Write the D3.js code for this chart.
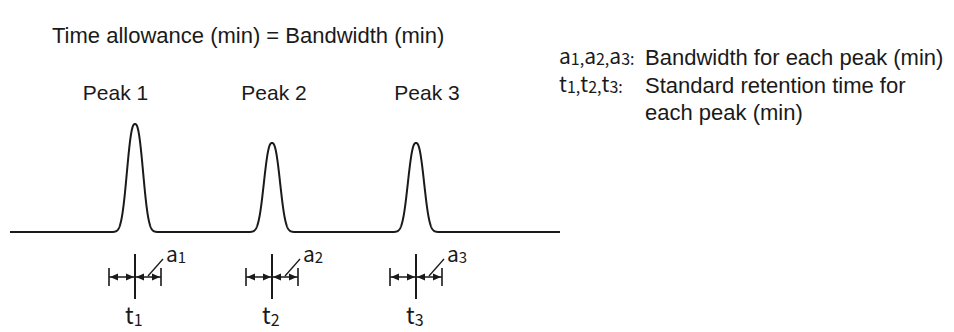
<!DOCTYPE html>
<html><head><meta charset="utf-8">
<script src="https://cdn.jsdelivr.net/npm/d3@7"></script>
<style>
html,body{margin:0;padding:0;background:#fff;}
svg{display:block;}
text{font-family:"Liberation Sans",Arial,sans-serif;fill:#1a1a1a;}
.sym{font-family:"Noto Sans CJK JP","DejaVu Sans",sans-serif;}
</style></head>
<body>
<script>
// ---- data ----
const titleText = "Time allowance (min) = Bandwidth (min)";
const peakLabels = ["Peak 1", "Peak 2", "Peak 3"];
const labelTimes = [1.055, 2.64, 4.17];      // label centre on the time axis
const retentionTimes = [1.25, 2.62, 4.06];   // t1, t2, t3
const peakHeights = [1.0, 0.824, 0.824];     // relative heights
const peakWidths = [0.10, 0.10, 0.10];       // peak shape width
const bandwidths = [0.26, 0.26, 0.26];       // a1, a2, a3 (half window each side)
const timeDomain = [0, 5.5];
const legendKeys = [["a", "1,", "a", "2,", "a", "3:"], ["t", "1,", "t", "2,", "t", "3:"]];
const legendLines = [["Bandwidth for each peak (min)"], ["Standard retention time for", "each peak (min)"]];

// ---- drawing ----
const W = 954, H = 332;
const svg = d3.select("body").append("svg").attr("width", W).attr("height", H);
const x = d3.scaleLinear().domain(timeDomain).range([10, 560]);
const y = d3.scaleLinear().domain([0, 1]).range([232, 124]);
const ink = "#1a1a1a";

const signal = t => d3.sum(retentionTimes, (rt, i) =>
  peakHeights[i] * Math.exp(-Math.pow(Math.abs(t - rt) / peakWidths[i], 2.5)));
const grid = d3.range(timeDomain[0], timeDomain[1] + 1e-9, 0.002);
svg.append("path")
  .datum(grid)
  .attr("d", d3.line().x(t => x(t)).y(t => y(signal(t))))
  .attr("fill", "none").attr("stroke", ink).attr("stroke-width", 2)
  .attr("stroke-linejoin", "round");

svg.append("text").attr("x", 52).attr("y", 43).attr("font-size", 22).text(titleText);

svg.selectAll("text.peak").data(peakLabels).join("text")
  .attr("class", "peak")
  .attr("x", (d, i) => x(labelTimes[i])).attr("y", 100)
  .attr("text-anchor", "middle").attr("font-size", 21).text(d => d);

const yArrow = 277;
const arrowHead = (s, tipX, dir) => s.append("path")
  .attr("d", `M${tipX},${yArrow} L${tipX - dir * 8},${yArrow - 3.5} L${tipX - dir * 8},${yArrow + 3.5} Z`)
  .attr("fill", ink);

const g = svg.selectAll("g.bw").data(retentionTimes).join("g").attr("class", "bw");
g.append("line")
  .attr("x1", d => x(d)).attr("x2", d => x(d)).attr("y1", 254).attr("y2", 299)
  .attr("stroke", ink).attr("stroke-width", 2);
g.each(function (d, i) {
  const s = d3.select(this);
  const xl = x(d - bandwidths[i]), xr = x(d + bandwidths[i]), xc = x(d);
  [xl, xr].forEach(xx => s.append("line").attr("x1", xx).attr("x2", xx)
    .attr("y1", 268).attr("y2", 286).attr("stroke", ink).attr("stroke-width", 1.6));
  s.append("line").attr("x1", xl).attr("x2", xr).attr("y1", yArrow).attr("y2", yArrow)
    .attr("stroke", ink).attr("stroke-width", 1.5);
  arrowHead(s, xl + 1, -1);
  arrowHead(s, xc - 1, 1);
  arrowHead(s, xc + 1, -1);
  arrowHead(s, xr - 1, 1);
  s.append("line").attr("x1", xc + 13).attr("y1", yArrow - 1).attr("x2", xc + 28).attr("y2", 259)
    .attr("stroke", ink).attr("stroke-width", 1.3);
  const ta = s.append("text").attr("class", "sym").attr("x", xc + 31).attr("y", 262).attr("font-size", 21);
  ta.append("tspan").text("a");
  ta.append("tspan").attr("font-size", 15).attr("dy", 1).text(i + 1);
  const tt = s.append("text").attr("class", "sym").attr("x", xc - 10).attr("y", 324).attr("font-size", 23);
  tt.append("tspan").text("t");
  tt.append("tspan").attr("font-size", 16).attr("dy", 2).text(i + 1);
});

// legend
const legY = [65, 93];
legendKeys.forEach((parts, r) => {
  const t = svg.append("text").attr("class", "sym").attr("x", 559).attr("y", legY[r]).attr("font-size", 21);
  parts.forEach((p, k) => {
    const sub = k % 2 === 1;
    t.append("tspan").attr("font-size", sub ? 16 : 21).attr("dy", sub ? 1 : -1).text(p);
  });
  legendLines[r].forEach((line, j) => svg.append("text")
    .attr("x", 645).attr("y", legY[r] + j * 27).attr("font-size", 22).text(line));
});
</script>
</body></html>
